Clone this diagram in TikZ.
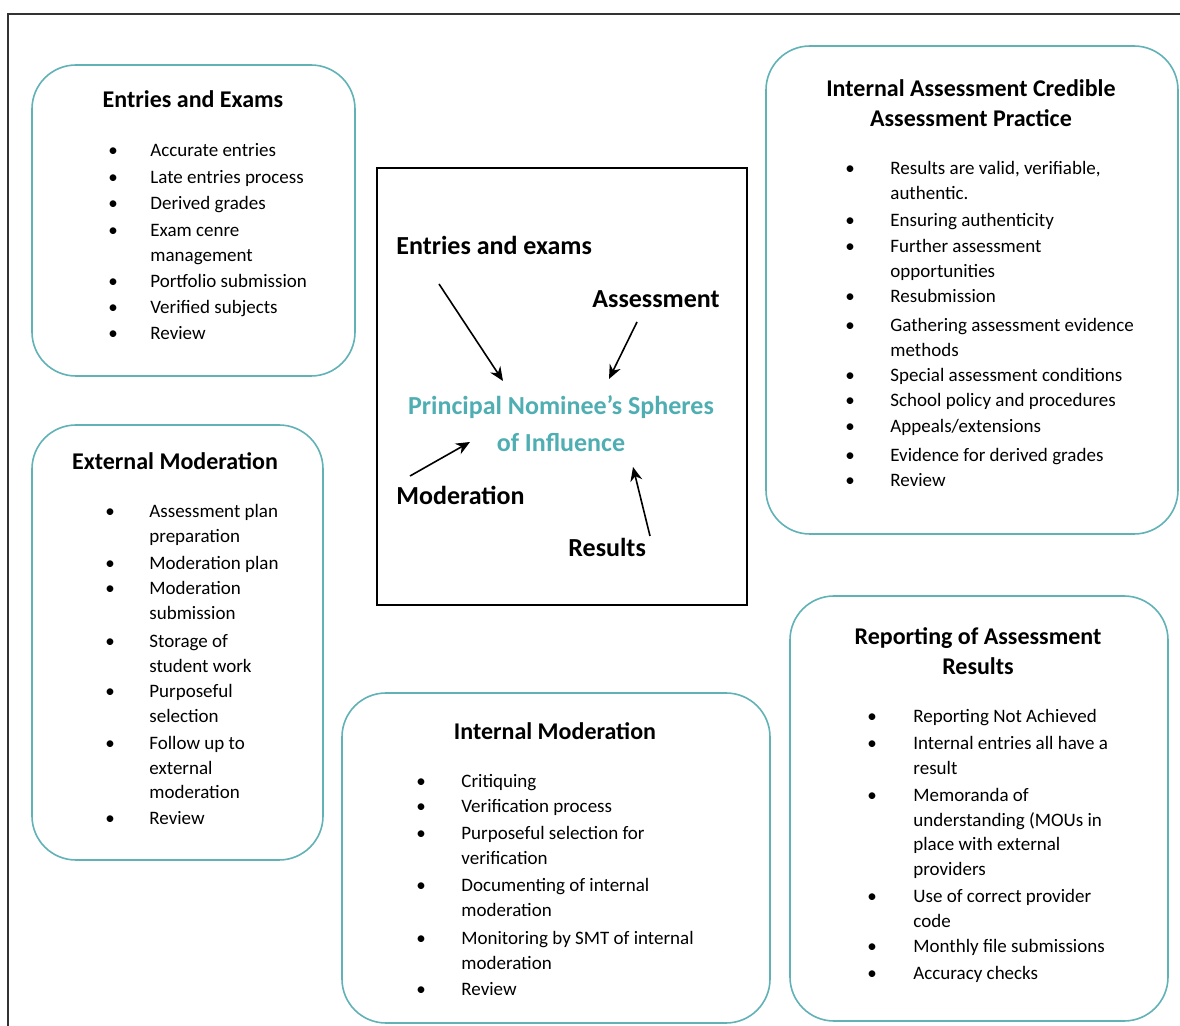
\documentclass[tikz,border=0pt]{standalone}
\usepackage{fontspec}
\setmainfont{Carlito}
\usepackage{tikz}
\usetikzlibrary{arrows.meta}
\definecolor{tealline}{RGB}{96,178,182}
\definecolor{tealtext}{RGB}{78,174,178}
% stacked lines whose baseline is the first line
\newcommand{\leftlines}[1]{\vtop{\let\\\cr\halign{##\hfil\cr#1\crcr}}}
\newcommand{\midlines}[1]{\vtop{\let\\\cr\halign{\hfil##\hfil\cr#1\crcr}}}

\begin{document}
\begin{tikzpicture}[x=0.5pt,y=-0.5pt,>={Stealth[length=7pt,width=6pt]},
  sphere box/.style={draw=tealline,line width=0.8pt,rounded corners=22pt},
  box title/.style={anchor=base,inner sep=0pt,font=\fontsize{12}{15}\selectfont\bfseries},
  item text/.style={anchor=base west,inner sep=0pt,font=\fontsize{9.5}{12.25}\selectfont},
  item dot/.style={anchor=base,inner sep=0pt,font=\fontsize{9.5}{12.25}\selectfont},
  arrow label/.style={anchor=base west,inner sep=0pt,font=\fontsize{13}{16}\selectfont\bfseries}]

  \useasboundingbox (0,0) rectangle (1180,1026);
  \clip (0,0) rectangle (1180,1026);
  \draw[line width=1pt,black!80] (8,1040) -- (8,14) -- (1190,14);

  % the five spheres
  \draw[sphere box] (32,65) rectangle (355,376);
  \draw[sphere box] (32,425) rectangle (323,860);
  \draw[sphere box] (766,46) rectangle (1178,534);
  \draw[sphere box] (342,693) rectangle (770,1023);
  \draw[sphere box] (790,596) rectangle (1168,1021);

  % entries and exams
  \node[box title] (ee) at (193,108) {Entries and Exams};
  \foreach \yy/\txt [count=\i] in {157/Accurate entries, 184/Late entries process,
      210/Derived grades, 237/{Exam cenre\\management}, 288/Portfolio submission,
      314/Verified subjects, 340/Review}{
    \node[item dot] (eed\i) at (113,\yy) {\textbullet};
    \node[item text] (eet\i) at (150,\yy) {\leftlines{\txt}};
  }

  % external moderation
  \node[box title] (em) at (175,470) {External Moderation};
  \foreach \yy/\txt [count=\i] in {518/{Assessment plan\\preparation}, 570/Moderation plan,
      595/{Moderation\\submission}, 648/{Storage of\\student work}, 698/{Purposeful\\selection},
      750/{Follow up to\\external\\moderation}, 825/Review}{
    \node[item dot] (emd\i) at (110,\yy) {\textbullet};
    \node[item text] (emt\i) at (149,\yy) {\leftlines{\txt}};
  }

  % internal assessment
  \node[box title] (ia) at (971,97) {\midlines{Internal Assessment Credible\\Assessment Practice}};
  \foreach \yy/\txt [count=\i] in {175/{Results are valid, verifiable,\\authentic.},
      227/Ensuring authenticity, 253/{Further assessment\\opportunities}, 303/Resubmission,
      332/{Gathering assessment evidence\\methods}, 382/Special assessment conditions,
      407/School policy and procedures, 433/{Appeals/extensions},
      462/Evidence for derived grades, 487/Review}{
    \node[item dot] (iad\i) at (850,\yy) {\textbullet};
    \node[item text] (iat\i) at (890,\yy) {\leftlines{\txt}};
  }

  % internal moderation
  \node[box title] (im) at (555,740) {Internal Moderation};
  \foreach \yy/\txt [count=\i] in {788/Critiquing, 813/Verification process,
      840/{Purposeful selection for\\verification}, 892/{Documenting of internal\\moderation},
      945/{Monitoring by SMT of internal\\moderation}, 996/Review}{
    \node[item dot] (imd\i) at (421,\yy) {\textbullet};
    \node[item text] (imt\i) at (461,\yy) {\leftlines{\txt}};
  }

  % reporting
  \node[box title] (rr) at (978,645) {\midlines{Reporting of Assessment\\Results}};
  \foreach \yy/\txt [count=\i] in {723/Reporting Not Achieved,
      750/{Internal entries all have a\\result},
      802/{Memoranda of\\understanding (MOUs in\\place with external\\providers},
      903/{Use of correct provider\\code}, 953/Monthly file submissions, 979/Accuracy checks}{
    \node[item dot] (rrd\i) at (872,\yy) {\textbullet};
    \node[item text] (rrt\i) at (913,\yy) {\leftlines{\txt}};
  }

  % centre
  \node[draw,line width=0.8pt,minimum width=185pt,minimum height=218.5pt,inner sep=0pt] (frame) at (562,386.5) {};
  \node[anchor=base,inner sep=0pt,text=tealtext,font=\fontsize{13}{18.5}\selectfont\bfseries] (pn) at (561,415)
    {\midlines{Principal Nominee’s Spheres\\of Influence}};
  \node[arrow label] (l1) at (396,255) {Entries and exams};
  \node[arrow label] (l2) at (592,308) {Assessment};
  \node[arrow label] (l3) at (396,505) {Moderation};
  \node[arrow label] (l4) at (568,557) {Results};

  \coordinate (s1) at (439,284);  \coordinate (t1) at (503,381);
  \coordinate (s2) at (637,322);  \coordinate (t2) at (609,379);
  \coordinate (s3) at (410,476);  \coordinate (t3) at (470,442);
  \coordinate (s4) at (650,536);  \coordinate (t4) at (633,467);
  \foreach \k in {1,...,4}
    \draw[->,line width=0.8pt] (s\k) -- (t\k);
\end{tikzpicture}
\end{document}
